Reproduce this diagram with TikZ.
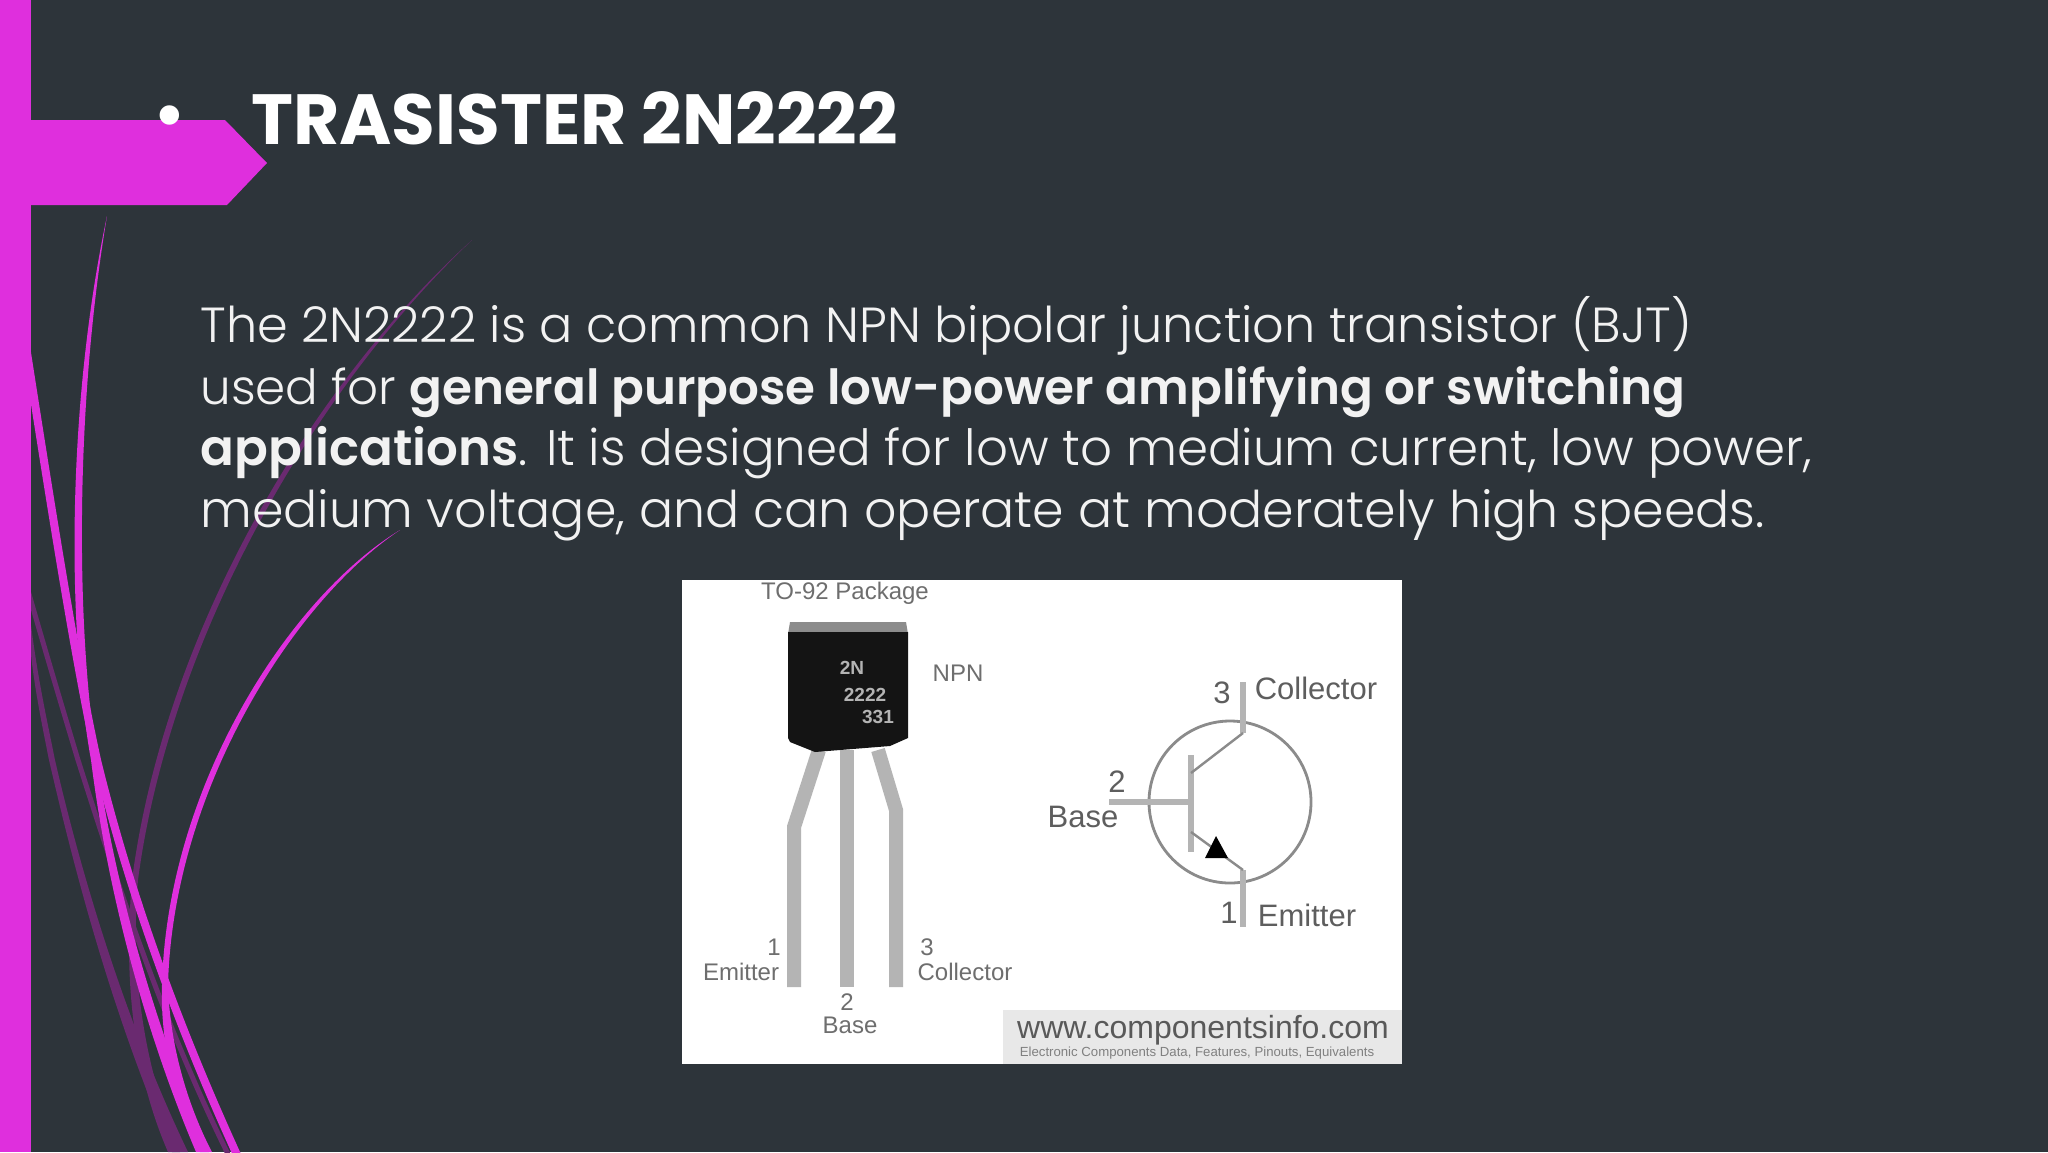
\documentclass[tikz,border=0pt]{standalone}
\usepackage{fontspec}
\setmainfont{Poppins}[UprightFont=* Light,BoldFont=* SemiBold]
\newfontfamily\headfont{Poppins}[UprightFont=* Bold]
\newfontfamily\labelfont{Liberation Sans}
\usetikzlibrary{positioning}
\definecolor{slide}{HTML}{2D343A}
\definecolor{magenta1}{HTML}{DF2FDD}
\definecolor{magenta2}{HTML}{6A2A70}
\definecolor{lead}{HTML}{B4B4B4}
\definecolor{ink}{HTML}{6E6E6E}
\tikzset{
    title/.style =  {anchor=base west,
                    inner sep=0pt,
                    text=white,
                    font=\headfont\fontsize{35.5}{35.5}\selectfont},
    body/.style =   {anchor=base west,
                    inner sep=0pt,
                    text=white!95!black,
                    font=\fontsize{#1}{#1}\selectfont},
    tag/.style =    {inner sep=0pt,
                    text=ink,
                    font=\labelfont\fontsize{12}{12}\selectfont},
    bigtag/.style = {inner sep=0pt,
                    text=ink!85!black,
                    font=\labelfont\fontsize{15.5}{15.5}\selectfont},
    chipmark/.style = {inner sep=0pt,
                    text=lead,
                    font=\labelfont\bfseries\fontsize{9.5}{9.5}\selectfont},
    wire/.style =   {draw=lead,
                    line width=3pt},
    leg/.style =    {draw=lead,
                    line width=7pt},
    fine/.style =   {draw=ink!80,
                    line width=1.2pt},
    sweep/.style =  {draw=#1,
                    line width=2.5pt}
}
\begin{document}
\begin{tikzpicture}[x=0.5pt,y=-0.5pt]
    \fill[slide] (0,0) rectangle (2048,1152);
    \useasboundingbox (0,0) rectangle (2048,1152);
    % dim curves
    \fill[magenta2] (472,240) .. controls (302,402) and (168,652) .. (138,880)
        .. controls (131,960) and (140,1060) .. (180,1152) -- (168,1152)
        .. controls (128,1060) and (125,960) .. (132,880)
        .. controls (162,648) and (298,398) .. (472,240) -- cycle;
    \draw[sweep=magenta2] (25,580) .. controls (45,650) and (60,700) .. (78,760)
        .. controls (110,860) and (160,1020) .. (235,1168);
    \fill[magenta2] (31,625) .. controls (38,680) and (47,720) .. (55,760)
        .. controls (78,860) and (120,1010) .. (188,1152) -- (172,1152)
        .. controls (110,1010) and (72,860) .. (49,760)
        .. controls (41,720) and (35,690) .. (31,655) -- cycle;
    % bright curves
    \fill[magenta1] (107,216) .. controls (76,400) and (75,620) .. (97,760)
        .. controls (114,880) and (152,1020) .. (209,1152) -- (196,1152)
        .. controls (140,1020) and (106,880) .. (91,760)
        .. controls (66,620) and (68,400) .. (107,216) -- cycle;
    \draw[sweep=magenta1,line width=4pt] (25,340) .. controls (50,500) and (75,660) .. (97,760)
        .. controls (125,875) and (170,1010) .. (243,1168);
    \fill[magenta1] (400,530) .. controls (292,602) and (173,792) .. (168,985)
        .. controls (170,1050) and (190,1110) .. (212,1152) -- (200,1152)
        .. controls (178,1110) and (160,1050) .. (162,985)
        .. controls (167,788) and (288,598) .. (400,530) -- cycle;
    % left bar and title arrow
    \fill[magenta1] (0,0) rectangle (31,1152);
    \fill[magenta1] (31,120) -- (225,120) -- (267,163) -- (227,205) -- (31,205) -- cycle;
    \node[inner sep=0pt,text=white,font=\fontsize{42}{42}\selectfont] (bullet) at (170,125) {•};
    \node[title] (head) at (251,144) {TRASISTER 2N2222};
    \node[body=24.65] (line1) at (200,342) {The 2N2222 is a common NPN bipolar junction transistor (BJT)};
    \node[body=24.2] (line2) at (200,404) {used for \textbf{general purpose low-power amplifying or switching}};
    \node[body=24.95] (line3) at (200,465) {\textbf{applications}. It is designed for low to medium current, low power,};
    \node[body=25.3] (line4) at (200,527) {medium voltage, and can operate at moderately high speeds.};
    % picture panel
    \fill[white] (682,580) rectangle (1402,1064);
    \fill[black!9] (1003,1010) rectangle (1402,1064);
    \node[tag] (pack) at (845,593) {TO-92 Package};
    \node[tag] (npn) at (958,673) {NPN};
    % package
    \coordinate (l1a) at (819,750);
    \coordinate (l1b) at (794,827);
    \coordinate (l1c) at (794,987);
    \coordinate (l2a) at (847,750);
    \coordinate (l2c) at (847,987);
    \coordinate (l3a) at (878,750);
    \coordinate (l3b) at (896,810);
    \coordinate (l3c) at (896,987);
    \draw[leg] (l1a) -- (l1b) -- (l1c);
    \draw[leg] (l2a) -- (l2c);
    \draw[leg] (l3a) -- (l3b) -- (l3c);
    \fill[black!45] (790,622) -- (906,622) -- (908,634) -- (788,634) -- cycle;
    \fill[black!92] (788,632) -- (908,632) -- (908,738) -- (890,746) -- (815,752) -- (790,742) -- (788,738) -- cycle;
    \node[chipmark] (code1) at (852,668) {2N};
    \node[chipmark] (code2) at (865,695) {2222};
    \node[chipmark] (code3) at (878,717) {331};
    \node[tag] (pin1) at (774,947) {1};
    \node[tag] (pin1n) at (741,972) {Emitter};
    \node[tag] (pin2) at (847,1002) {2};
    \node[tag] (pin2n) at (850,1025) {Base};
    \node[tag] (pin3) at (927,947) {3};
    \node[tag] (pin3n) at (965,972) {Collector};
    % symbol
    \node[circle,draw=ink!80,line width=1.4pt,minimum size=81pt,inner sep=0pt] (ring) at (1230,802) {};
    \coordinate (ctop) at (1243,682);
    \coordinate (cin) at (1243,733);
    \coordinate (bar1) at (1191,755);
    \coordinate (bar2) at (1191,852);
    \coordinate (bend) at (1109,802);
    \coordinate (bmid) at (1191,802);
    \coordinate (cbar) at (1191,773);
    \coordinate (ebar) at (1191,832);
    \coordinate (ein) at (1243,870);
    \coordinate (ebot) at (1243,927);
    \draw[wire] (ctop) -- (cin);
    \draw[wire] (ein) -- (ebot);
    \draw[wire] (bar1) -- (bar2);
    \draw[wire] (bend) -- (bmid);
    \draw[fine] (cbar) -- (cin);
    \draw[fine] (ebar) -- (ein);
    \fill[black] (1216,836) -- (1228,858) -- (1205,858) -- cycle;
    \node[bigtag] (sym3) at (1222,693) {3};
    \node[bigtag] (sym3n) at (1316,688) {Collector};
    \node[bigtag] (sym2) at (1117,782) {2};
    \node[bigtag] (sym2n) at (1083,817) {Base};
    \node[bigtag] (sym1) at (1229,913) {1};
    \node[bigtag] (sym1n) at (1307,915) {Emitter};
    \node[inner sep=0pt,text=black!65,font=\labelfont\fontsize{16}{16}\selectfont] (site) at (1203,1030) {www.componentsinfo.com};
    \node[inner sep=0pt,text=black!50,font=\labelfont\fontsize{6.6}{6.6}\selectfont] (sub) at (1197,1053) {Electronic Components Data, Features, Pinouts, Equivalents};
\end{tikzpicture}
\end{document}
